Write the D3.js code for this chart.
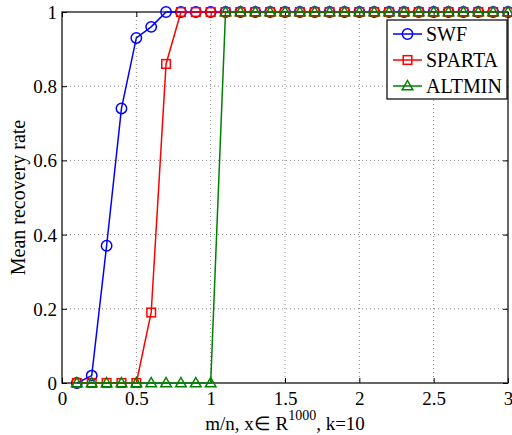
<!DOCTYPE html>
<html><head><meta charset="utf-8">
<script src="https://cdn.jsdelivr.net/npm/d3@7"></script>
<style>body{margin:0;background:#fff}svg{display:block}text{font-family:"Liberation Serif","Times New Roman",serif;fill:#000}</style>
</head><body>
<script>
const xs = [0.1,0.2,0.3,0.4,0.5,0.6,0.7,0.8,0.9,1.0,1.1,1.2,1.3,1.4,1.5,1.6,1.7,1.8,1.9,2.0,2.1,2.2,2.3,2.4,2.5,2.6,2.7,2.8,2.9,3.0];
const swf    = [0,0.02,0.37,0.74,0.93,0.96,1,1,1,1,1,1,1,1,1,1,1,1,1,1,1,1,1,1,1,1,1,1,1,1];
const sparta = [0,0,0,0,0,0.19,0.86,1,1,1,1,1,1,1,1,1,1,1,1,1,1,1,1,1,1,1,1,1,1,1];
const altmin = [0,0,0,0,0,0,0,0,0,0,1,1,1,1,1,1,1,1,1,1,1,1,1,1,1,1,1,1,1,1];
const seriesNames = ["SWF","SPARTA","ALTMIN"];
const xTicks = [0,0.5,1,1.5,2,2.5,3];
const yTicks = [0,0.2,0.4,0.6,0.8,1];
const xTickLabels = ["0","0.5","1","1.5","2","2.5","3"];
const yTickLabels = ["0","0.2","0.4","0.6","0.8","1"];
const xLabel = "m/n, x\u2208 R";
const xLabelSup = "1000";
const xLabelTail = ", k=10";
const yLabel = "Mean recovery rate";

const W=512,H=435;
const L=62,R=508,T=12,B=383;
const svg=d3.select("body").append("svg").attr("width",W).attr("height",H);
const x=d3.scaleLinear().domain([0,3]).range([L,R]);
const y=d3.scaleLinear().domain([0,1]).range([B,T]);
const fs=19;

// grid
const g=svg.append("g");
xTicks.slice(1,-1).forEach(t=>g.append("line").attr("x1",x(t)).attr("x2",x(t)).attr("y1",T).attr("y2",B)
  .attr("stroke","#888").attr("stroke-width",1).attr("stroke-dasharray","1,3"));
yTicks.slice(1,-1).forEach(t=>g.append("line").attr("y1",y(t)).attr("y2",y(t)).attr("x1",L).attr("x2",R)
  .attr("stroke","#888").attr("stroke-width",1).attr("stroke-dasharray","1,3"));

// axes
const axB=d3.axisBottom(x).tickValues(xTicks).tickSize(-5).tickPadding(10).tickFormat((d,i)=>xTickLabels[i]);
const axL=d3.axisLeft(y).tickValues(yTicks).tickSize(-5).tickPadding(10).tickFormat((d,i)=>yTickLabels[i]);
const axT=d3.axisTop(x).tickValues(xTicks).tickSize(-5).tickFormat("");
const axR=d3.axisRight(y).tickValues(yTicks).tickSize(-5).tickFormat("");
function style(sel){sel.select(".domain").remove();sel.selectAll("line").attr("stroke","#000");sel.selectAll("text").attr("font-size",fs).attr("font-family","Liberation Serif").attr("fill","#000");}
svg.append("g").attr("transform",`translate(0,${B})`).call(axB).call(style).selectAll("text").attr("dy","0.71em").attr("y",9);
svg.append("g").attr("transform",`translate(${L},0)`).call(axL).call(style).selectAll("text").attr("x",-5).attr("dy","0.34em");
svg.append("g").attr("transform",`translate(0,${T})`).call(axT).call(style);
svg.append("g").attr("transform",`translate(${R},0)`).call(axR).call(style);
svg.append("rect").attr("x",L).attr("y",T).attr("width",R-L).attr("height",B-T).attr("fill","none").attr("stroke","#000").attr("stroke-width",1.2);

// series
const colors=["#0000ff","#ff0000","#008000"];
const data=[swf,sparta,altmin];
const line=d3.line().x((d,i)=>x(xs[i])).y(d=>y(d));
function marker(sel,k,cx,cy,c){
  if(k===0) sel.append("circle").attr("cx",cx).attr("cy",cy).attr("r",5.2).attr("fill","none").attr("stroke",c).attr("stroke-width",1.5);
  else if(k===1) sel.append("rect").attr("x",cx-4.3).attr("y",cy-4.3).attr("width",8.6).attr("height",8.6).attr("fill","none").attr("stroke",c).attr("stroke-width",1.5);
  else sel.append("path").attr("d",`M${cx},${cy-5.5}L${cx+5.3},${cy+3.8}L${cx-5.3},${cy+3.8}Z`).attr("fill","none").attr("stroke",c).attr("stroke-width",1.5);
}
data.forEach((s,k)=>{
  const sg=svg.append("g");
  sg.append("path").datum(s).attr("d",line).attr("fill","none").attr("stroke",colors[k]).attr("stroke-width",1.5);
  s.forEach((v,i)=>marker(sg,k,x(xs[i]),y(v),colors[k]));
});

// legend
const lg=svg.append("g");
lg.append("rect").attr("x",387).attr("y",20).attr("width",120).attr("height",79).attr("fill","#fff").attr("stroke","#000").attr("stroke-width",1.2);
seriesNames.forEach((n,k)=>{
  const yy=34+k*26;
  lg.append("line").attr("x1",393).attr("x2",422).attr("y1",yy).attr("y2",yy).attr("stroke",colors[k]).attr("stroke-width",1.5);
  marker(lg,k,407.5,yy,colors[k]);
  lg.append("text").attr("x",426).attr("y",yy).attr("dy","0.34em").attr("font-size",fs+1).text(n);
});

// labels
const xl=svg.append("text").attr("x",(L+R)/2).attr("y",430).attr("text-anchor","middle").attr("font-size",fs);
xl.append("tspan").text(xLabel);
xl.append("tspan").attr("dy",-10).attr("font-size",14).text(xLabelSup);
xl.append("tspan").attr("dy",10).text(xLabelTail);
svg.append("text").attr("transform",`translate(25,${(T+B)/2}) rotate(-90)`).attr("text-anchor","middle").attr("font-size",fs+1).text(yLabel);
</script>
</body></html>
